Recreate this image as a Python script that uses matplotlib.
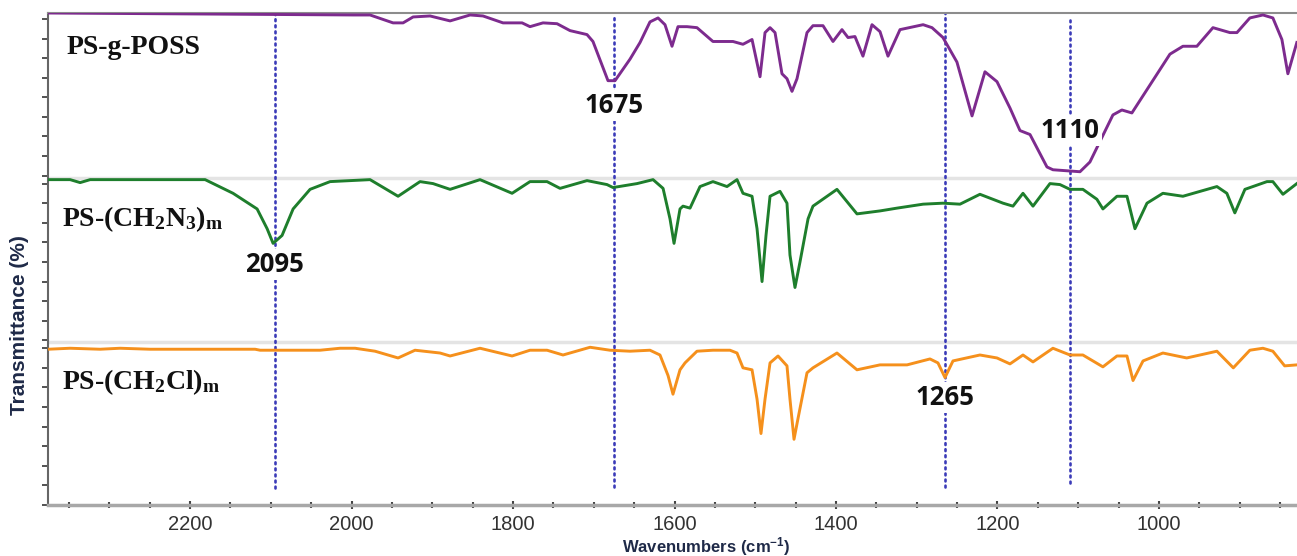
import numpy as np
import matplotlib
matplotlib.use("Agg")
import matplotlib.pyplot as plt

plt.rcParams['mathtext.default'] = 'regular'

# FTIR spectra, transmittance (%) within each stacked panel
poss_wn = [2376, 1998, 1977.1, 1948.6, 1936.2, 1923.8, 1902.8, 1878.0, 1853.2, 1837.2, 1812.4,
           1788.8, 1779.0, 1762.9, 1745.5, 1729.4, 1708.4, 1701.0, 1682.4, 1673.7, 1655.1, 1642.7,
           1630.4, 1620.4, 1611.8,
           1603.1, 1595.7, 1584.5, 1572.2, 1552.4, 1527.6, 1515.2, 1504.0, 1494.1, 1487.9, 1481.7,
           1475.5, 1466.9, 1460.7, 1454.5, 1448.3, 1435.9, 1428.5, 1416.1, 1403.7, 1392.6, 1385.1,
           1376.5, 1366.6, 1355.4, 1345.5, 1335.6, 1320.7, 1292.1, 1281.1, 1267.5, 1250.2, 1231.5,
           1215.5, 1200.6, 1184.5, 1172.1, 1159.7, 1138.7, 1131.3, 1097.8, 1085.5, 1057.0, 1045.9,
           1033.5, 986.4, 970.3, 953.0, 933.1, 912.1, 903.4, 887.4, 871.2, 858.9, 847.7, 840.3, 829.2]
poss_t = [100, 98.8, 98.8, 94.0, 94.0, 97.6, 98.2, 95.2, 98.8, 98.2, 94.0,
          94.0, 91.7, 94.0, 93.5, 89.3, 86.9, 82.7, 58.9, 58.9, 72.0, 82.1,
          94.6, 97.0, 92.9,
          79.8, 91.7, 91.7, 91.1, 82.7, 82.7, 81.0, 83.9, 61.3, 88.1, 91.1,
          88.1, 63.1, 60.1, 52.4, 60.1, 88.1, 92.3, 92.3, 82.7, 89.9, 85.1,
          85.7, 73.8, 92.9, 88.7, 73.8, 89.9, 92.9, 91.1, 85.1, 70.2, 37.5,
          64.3, 58.3, 42.3, 28.6, 26.2, 6.5, 4.8, 3.6, 9.5, 38.1, 41.1,
          39.3, 75.0, 79.8, 79.8, 91.1, 88.1, 88.1, 97.0, 98.8, 97.0, 83.9, 63.1, 82.1]

azide_wn = [2376, 2348.6, 2336.2, 2323.8, 2181.4, 2146.8, 2117.0, 2104.6, 2097.2, 2086.1, 2072.4,
            2051.4, 2026.6, 1977.1, 1942.4, 1915.2, 1899.1, 1878.0, 1840.9, 1801.2, 1779.0, 1757.9,
            1741.8, 1708.4, 1683.6, 1676.2, 1646.4, 1626.6, 1614.2, 1605.6, 1600.6, 1593.2, 1589.5,
            1580.8, 1568.4, 1552.4, 1535.0, 1522.6, 1515.2, 1504.0, 1497.8, 1491.6, 1486.7, 1481.7,
            1469.4, 1460.7, 1457.0, 1450.8, 1444.6, 1434.6, 1428.5, 1398.8, 1374.0, 1345.5, 1324.4,
            1292.1, 1267.5, 1246.4, 1221.7, 1193.1, 1180.8, 1168.4, 1156.0, 1135.0, 1122.6, 1110.2,
            1094.2, 1076.9, 1069.4, 1052.0, 1039.6, 1029.7, 1014.8, 995.1, 970.3, 928.2, 915.9,
            906.0, 893.5, 866.2, 858.9, 846.4, 829.2]
azide_t = [98.8, 98.8, 97.0, 98.8, 98.8, 90.5, 81.0, 69.0, 60.1, 64.9, 81.0,
           92.9, 97.6, 98.8, 88.7, 97.6, 96.4, 92.9, 98.8, 90.5, 97.6, 97.6,
           93.5, 98.2, 95.8, 94.0, 96.4, 98.8, 93.5, 75.0, 60.1, 81.0, 82.7,
           81.5, 94.6, 97.6, 94.6, 98.8, 90.5, 88.7, 69.0, 36.9, 64.9, 88.7,
           91.7, 84.5, 53.0, 33.3, 48.8, 75.0, 82.7, 92.9, 78.0, 79.8, 81.5,
           83.9, 84.5, 83.9, 89.9, 84.5, 82.7, 90.5, 82.7, 96.4, 95.8, 92.9,
           92.9, 86.9, 81.0, 88.7, 88.7, 69.0, 84.5, 90.5, 88.7, 94.6, 90.5,
           78.6, 92.9, 97.6, 97.6, 89.9, 96.4]

chloro_wn = [2376, 2348.6, 2311.5, 2286.7, 2249.5, 2119.5, 2113.3, 2039.0, 2014.2, 1995.7, 1970.9,
             1942.4, 1921.4, 1890.4, 1878.0, 1840.9, 1801.2, 1779.0, 1757.9, 1738.1, 1704.6, 1679.9,
             1655.1, 1630.4, 1618.0, 1608.0, 1601.9, 1593.2, 1587.0, 1572.2, 1552.4, 1531.3, 1522.6,
             1515.2, 1504.0, 1497.8, 1492.9, 1487.9, 1481.7, 1471.8, 1460.7, 1457.0, 1452.0, 1447.1,
             1435.9, 1428.5, 1398.8, 1374.0, 1345.5, 1312.0, 1283.6, 1273.7, 1265.0, 1255.1, 1221.7,
             1200.6, 1184.5, 1168.4, 1156.0, 1131.3, 1110.2, 1094.2, 1069.4, 1052.0, 1039.6, 1032.1,
             1019.7, 995.1, 965.6, 928.2, 907.9, 887.4, 871.2, 858.9, 844.3, 829.2]
chloro_t = [95.8, 96.4, 95.8, 96.4, 95.8, 95.8, 95.2, 95.2, 96.4, 96.4, 94.6,
            90.5, 95.2, 93.5, 91.7, 96.4, 91.7, 95.2, 95.2, 92.3, 97.0, 95.2,
            94.6, 95.2, 92.3, 79.8, 68.5, 83.3, 87.5, 94.6, 95.2, 95.2, 93.5,
            84.5, 83.3, 65.5, 44.6, 65.5, 87.5, 91.7, 85.7, 65.5, 41.1, 53.6,
            81.5, 84.5, 93.5, 83.3, 86.3, 86.3, 89.9, 87.5, 78.6, 88.7, 92.3,
            90.5, 86.9, 92.3, 88.1, 96.4, 92.3, 92.3, 85.1, 91.7, 91.7, 76.8,
            88.7, 93.5, 90.5, 94.6, 84.5, 95.2, 96.4, 94.6, 85.7, 86.3]

peak_wn = [2095, 1675, 1265, 1110]
peak_labels = ['2095', '1675', '1265', '1110']

# layout
offsets = [200, 100, 0]
colors = ['#7d2b8e', '#1e7e2c', '#f5901c']
names = ['PS-g-POSS', 'PS-(CH$_2$N$_3$)$_m$', 'PS-(CH$_2$Cl)$_m$']
name_x = [2353, 2359, 2359]
name_y = [275, 170.8, 71.4]
peak_lbl_y = [147.0, 244.0, 66.7, 228.6]
peak_line_span = [(11.3, 300), (11.9, 298.8), (11.9, 300), (14.3, 295.8)]

fig = plt.figure(figsize=(12.97, 5.56), dpi=100)
ax = fig.add_axes([48/1297, 51/556, 1249/1297, 492/556])

# panel separators
for off in [200, 100]:
    ax.axhline(off, color='#e4e4e4', lw=2.5, zorder=1)

spectra = [(poss_wn, poss_t), (azide_wn, azide_t), (chloro_wn, chloro_t)]
for (wn, t), off, c in zip(spectra, offsets, colors):
    ax.plot(wn, np.array(t) + off, color=c, lw=2.1, zorder=3, solid_joinstyle='round')

for nm, xx, yy in zip(names, name_x, name_y):
    ax.text(xx, yy, nm, family='Liberation Serif', fontweight='bold', fontsize=20,
            va='baseline', ha='left', color='#111111', zorder=5)

for wn, (y0, y1) in zip(peak_wn, peak_line_span):
    ax.plot([wn, wn], [y0, y1], color='#3b3bb8', lw=1.9, ls=(0, (0.7, 1.6)),
            dash_capstyle='round', zorder=2)

for wn, lbl, yy in zip(peak_wn, peak_labels, peak_lbl_y):
    ax.text(wn, yy, lbl, family='Open Sans', fontweight='bold', fontsize=18.5,
            ha='center', va='center', color='#111111', zorder=4,
            bbox=dict(facecolor='white', edgecolor='none', pad=1.5))

ax.set_xlim(2376, 829)
ax.set_ylim(7.14, 300)

ax.set_xticks([2200, 2000, 1800, 1600, 1400, 1200, 1000])
ax.set_xticks(np.arange(850, 2376, 50), minor=True)
yt = []
for off in offsets:
    yt.extend(list(off + np.arange(1.2, 100, 11.9)))
ax.set_yticks(yt)
ax.set_yticklabels([])

for lab in ax.get_xticklabels():
    lab.set_family('Liberation Sans')
ax.tick_params(axis='x', which='major', length=6, width=1.5, color='#444444',
               labelsize=14.5, labelcolor='#333333', pad=4, direction='inout')
ax.tick_params(axis='x', which='minor', length=5, width=1.5, color='#444444', direction='inout')
ax.tick_params(axis='y', length=4.5, width=1.3, color='#444444', direction='out')

ax.spines['right'].set_visible(False)
ax.spines['top'].set_color('#8c8c8c')
ax.spines['top'].set_linewidth(1.5)
ax.spines['bottom'].set_color('#a8a8a8')
ax.spines['bottom'].set_linewidth(2.5)
ax.spines['left'].set_color('#666666')
ax.spines['left'].set_linewidth(1.5)

fig.text(20/1297, 1 - 325/556, 'Transmittance (%)', rotation=90, ha='center', va='center',
         family='Liberation Sans', fontweight='bold', fontsize=15, color='#1f2a48')
fig.text(706/1297, 1 - 547/556, 'Wavenumbers (cm$^{-1}$)', ha='center', va='center',
         family='Liberation Sans', fontweight='bold', fontsize=12, color='#1f2a48')

fig.savefig('out.png', dpi=100)
